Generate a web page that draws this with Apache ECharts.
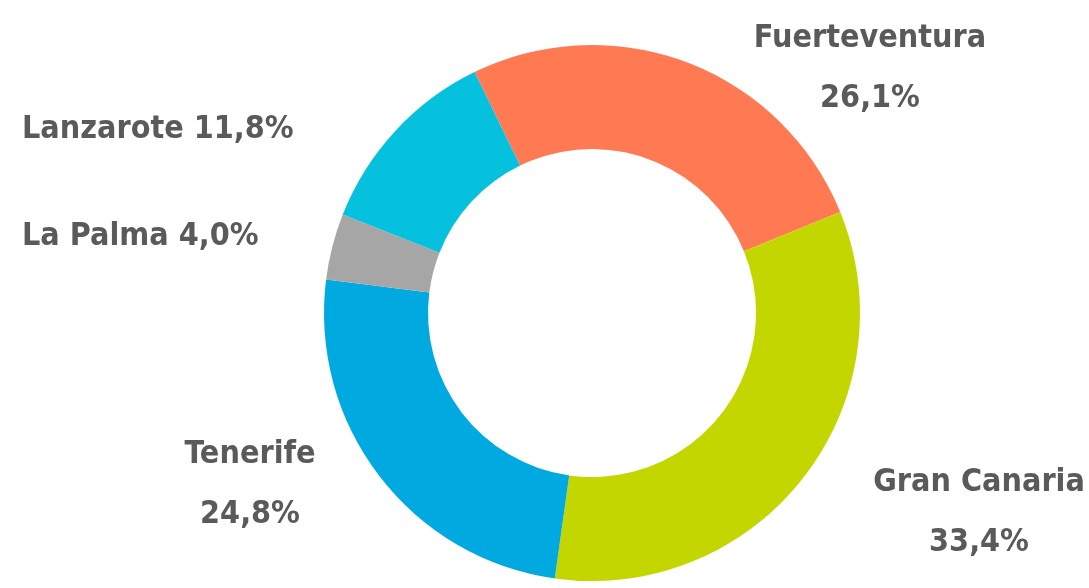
<!DOCTYPE html>
<html>
<head>
<meta charset="utf-8">
<script src="https://cdn.jsdelivr.net/npm/echarts@6/dist/echarts.min.js"></script>
<style>
 html,body{margin:0;padding:0;background:#fff;}
 #container{width:1089px;height:588px;}
</style>
</head>
<body>
<div id="container"></div>
<script>
var islands = ['Fuerteventura','Gran Canaria','Tenerife','La Palma','Lanzarote'];
var shares = [26.1, 33.4, 24.8, 4.0, 11.8];
var colors = ['#ff7a53','#c4d600','#00a9e0','#a6a6a6','#05c1de'];
var twoLines = [true, true, true, false, false];
// where each label sits (x, y, align)
var labelPos = [
  [870, 69, 'center'],
  [979, 513, 'center'],
  [250, 485, 'center'],
  [22, 237, 'left'],
  [22, 130, 'left']
];

var dom = document.getElementById('container');
var myChart = echarts.init(dom);
var option = {
  backgroundColor: '#fff',
  animation: false,
  series: [{
    type: 'pie',
    center: [592, 313],
    radius: [164, 268],
    startAngle: 116,
    clockwise: true,
    avoidLabelOverlap: false,
    labelLine: {show: false},
    label: {
      show: true,
      position: 'outside',
      fontFamily: 'DejaVu Sans Condensed',
      fontWeight: 'bold',
      fontSize: 32,
      lineHeight: 60,
      color: '#5a5a5a',
      formatter: function (p) {
        var v = p.value.toFixed(1).replace('.', ',') + '%';
        return twoLines[p.dataIndex] ? p.name + '\n' + v : p.name + ' ' + v;
      }
    },
    labelLayout: function (params) {
      var lp = labelPos[params.dataIndex];
      return {x: lp[0], y: lp[1], align: lp[2], verticalAlign: 'middle'};
    },
    data: islands.map(function (n, i) {
      return {name: n, value: shares[i], itemStyle: {color: colors[i]}};
    })
  }]
};
myChart.setOption(option, true);
</script>
</body>
</html>
